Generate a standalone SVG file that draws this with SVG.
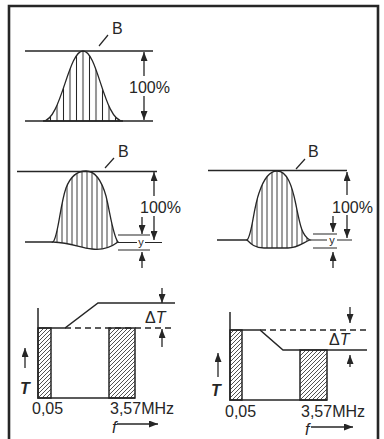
<svg xmlns="http://www.w3.org/2000/svg" width="384" height="439" viewBox="0 0 384 439">
<defs>
<style>
.ln{fill:none;stroke:#262626;stroke-width:1.5}
.thin{fill:none;stroke:#262626;stroke-width:1.2}
.ar{fill:none;stroke:#262626;stroke-width:1.3;marker-end:url(#ah)}
.dash{fill:none;stroke:#262626;stroke-width:1.3;stroke-dasharray:6 4}
.txt{font-family:"Liberation Sans",Arial,sans-serif;font-size:16px;fill:#262626}
.it{font-style:italic}
.sm{font-family:"Liberation Sans",Arial,sans-serif;font-size:11px;fill:#262626}
.bar{fill:url(#diag);stroke:#262626;stroke-width:1.5}
</style>
<marker id="ah" viewBox="0 0 9 7" refX="9" refY="3.5" markerWidth="9" markerHeight="7" markerUnits="userSpaceOnUse" orient="auto">
<path d="M0,0 L9,3.5 L0,7 Z" fill="#262626"/>
</marker>
<pattern id="vh1" patternUnits="userSpaceOnUse" x="1.75" y="0" width="6.5" height="10">
<line x1="3.25" y1="0" x2="3.25" y2="10" stroke="#262626" stroke-width="1"/>
</pattern>
<pattern id="vh2" patternUnits="userSpaceOnUse" x="0" y="0" width="5" height="10">
<line x1="2" y1="0" x2="2" y2="10" stroke="#262626" stroke-width="0.9"/>
</pattern>
<pattern id="diag" patternUnits="userSpaceOnUse" width="4" height="4">
<path d="M0,4 L4,0 M-1,1 L1,-1 M3,5 L5,3" stroke="#262626" stroke-width="0.8"/>
</pattern>
</defs>
<rect width="384" height="439" fill="#ffffff"/>
<g id="frame">
<path d="M9,439 V6 H378 V439" fill="none" stroke="#262626" stroke-width="2.6"/>
</g>

<g id="panel-top">
<path class="ln" d="M25,51 H153 M25,121 H153"/>
<path d="M43,121 C61,121 68,51 83,51 C98,51 104,121 123,121 Z" fill="url(#vh1)" stroke="#262626" stroke-width="1.3"/>
<path class="thin" d="M99,46 L108,35"/>
<text class="txt" x="112" y="34">B</text>
<path class="ar" d="M144,76 V52"/>
<path class="ar" d="M144,96 V120"/>
<text class="txt" x="129" y="93">100%</text>
</g>

<g id="panel-mid-left">
<path class="ln" d="M17,171.5 H157 M25,242 H53"/>
<path d="M53,242 C58,238 60,205 66,188 C71,175 78,171 86,171 C96,171 102,182 106,196 C110,212 113,236 118,242 C110,248 100,250 92,249 C80,248 72,243 53,242 Z" fill="url(#vh2)" stroke="#262626" stroke-width="1.3"/>
<path class="thin" d="M118,242.5 H137 M145,242.5 H162 M118,235 H150 M118,250 H150"/>
<text class="sm" x="141" y="246" text-anchor="middle">y</text>
<path class="ar" d="M142,217 V234"/>
<path class="ar" d="M142,268 V252"/>
<path class="ar" d="M154,196 V172"/>
<path class="ar" d="M154,216 V240"/>
<text class="txt" x="140" y="213">100%</text>
<path class="thin" d="M105,168 L114,158"/>
<text class="txt" x="118" y="157">B</text>
</g>

<g id="panel-mid-right">
<path class="ln" d="M208,170.5 H347 M217,240 H247"/>
<path d="M247,240 C252,236 253,210 259,193 C264,178 270,171 277,171 C287,171 292,185 296,205 C300,225 302,236 310,240 C304,242 298,248 288,248 L264,248 C255,248 251,244 247,240 Z" fill="url(#vh2)" stroke="#262626" stroke-width="1.3"/>
<path class="thin" d="M310,240 H327 M337,240 H352 M313,234 H337 M313,248 H337"/>
<text class="sm" x="332" y="243.5" text-anchor="middle">y</text>
<path class="ar" d="M333,216 V232"/>
<path class="ar" d="M333,268 V252"/>
<path class="ar" d="M347,195 V172"/>
<path class="ar" d="M347,215 V238"/>
<text class="txt" x="332" y="213">100%</text>
<path class="thin" d="M296,169 L305,159"/>
<text class="txt" x="308" y="157">B</text>
</g>

<g id="panel-bottom-left">
<rect class="bar" x="38" y="328" width="13" height="70"/>
<rect class="bar" x="109" y="328" width="26" height="70"/>
<path class="ln" d="M38,308 V398 H135"/>
<path class="ln" d="M38,328 H65 L98,303 H175"/>
<path class="dash" d="M65,328 H175"/>
<path class="ar" d="M162,288 V303"/>
<path class="ar" d="M162,347 V329"/>
<text class="txt" x="145" y="323">Δ<tspan class="it">T</tspan></text>
<path class="ar" d="M25,368 V348"/>
<text class="txt it" x="25" y="394" text-anchor="middle" font-weight="bold">T</text>
<text class="txt" x="32" y="414">0,05</text>
<text class="txt" x="110" y="414">3,57MHz</text>
<text class="txt it" x="112" y="433">f</text>
<path class="ar" d="M117,424 H158"/>
</g>

<g id="panel-bottom-right">
<rect class="bar" x="230" y="330" width="12" height="70"/>
<rect class="bar" x="300" y="350" width="27" height="50"/>
<path class="ln" d="M230,312 V400 H327"/>
<path class="ln" d="M230,330 H260 L283,350 H367"/>
<path class="dash" d="M260,330 H367"/>
<path class="ar" d="M350,307 V323"/>
<path class="ar" d="M350,367 V355"/>
<text class="txt" x="329" y="345">Δ<tspan class="it">T</tspan></text>
<path class="ar" d="M218,377 V353"/>
<text class="txt it" x="216" y="396" text-anchor="middle" font-weight="bold">T</text>
<text class="txt" x="225" y="417">0,05</text>
<text class="txt" x="301" y="417">3,57MHz</text>
<text class="txt it" x="305" y="435">f</text>
<path class="ar" d="M311,427 H353"/>
</g>
</svg>
